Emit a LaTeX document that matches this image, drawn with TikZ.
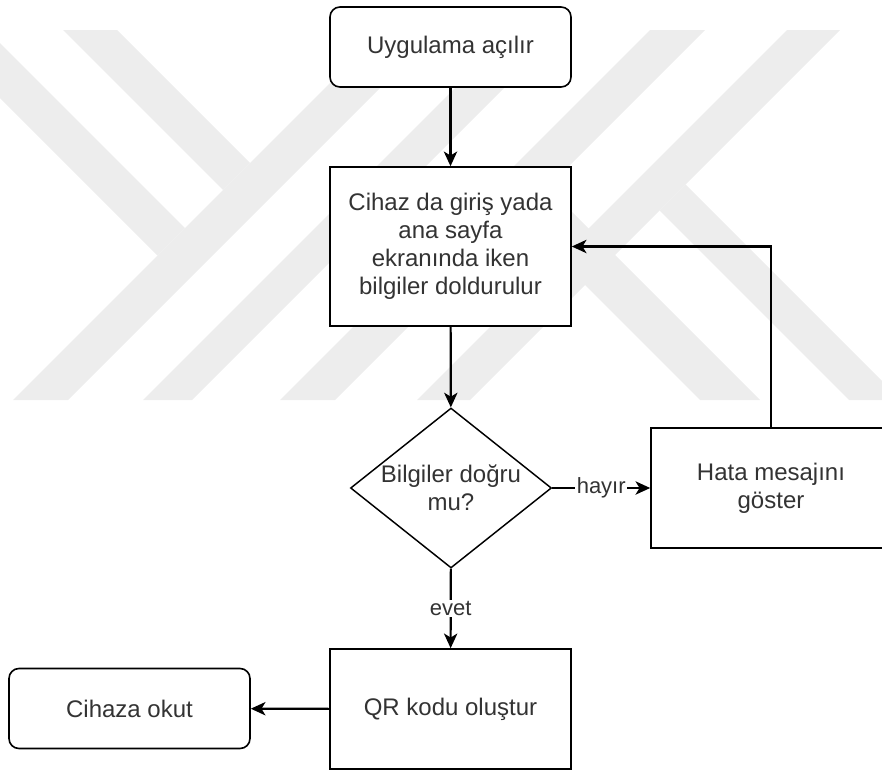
\documentclass[tikz,border=0pt]{standalone}
\usepackage{fontspec}
\setmainfont{Liberation Sans}
\usetikzlibrary{shapes.geometric,arrows.meta}
\definecolor{wmark}{RGB}{237,237,237}
\definecolor{txt}{HTML}{333333}

\begin{document}
\begin{tikzpicture}[x=0.75pt, y=-0.75pt,
    every node/.style={text=txt, align=center, font=\fontsize{18}{21}\selectfont},
    terminal/.style={draw, fill=white, line width=1.2pt, rounded corners=7.5pt,
        minimum width=180.75pt, minimum height=60pt},
    process/.style={draw, fill=white, line width=1.2pt, minimum width=180.75pt},
    decision/.style={draw, fill=white, line width=1.1pt, diamond, shape aspect=1.26,
        inner sep=0pt, minimum width=150.75pt, minimum height=120pt},
    flow/.style={line width=1.6pt, -{Stealth[length=11pt, width=10pt, inset=3pt]}},
    edgelabel/.style={fill=white, inner sep=1pt, font=\fontsize{16.5}{19}\selectfont}]
\useasboundingbox (0,0) rectangle (882,771);
\clip (0,0) rectangle (882,771);

\begin{scope}
\clip (0,30) rectangle (882,400);
\fill[wmark] (383,30) -- (438,30) -- (68,400) -- (13,400) -- cycle;
\fill[wmark] (-68,30) -- (-13,30) -- (185,228) -- (157.5,255.5) -- cycle;
\fill[wmark] (63,30) -- (117,30) -- (250,163) -- (223,190) -- cycle;
\fill[wmark] (513,30) -- (562,30) -- (192,400) -- (143,400) -- cycle;
\fill[wmark] (650,30) -- (705,30) -- (335,400) -- (280,400) -- cycle;
\fill[wmark] (787,30) -- (840,30) -- (470,400) -- (417,400) -- cycle;
\fill[wmark] (547.5,187.5) -- (760,400) -- (700,400) -- (517.5,217.5) -- cycle;
\fill[wmark] (685.5,184.5) -- (901,400) -- (849,400) -- (659.5,210.5) -- cycle;
\end{scope}

\node[terminal] (appopen) at (450.5,47) {Uygulama açılır};
\node[process, minimum height=119.25pt] (entry) at (450.5,246.5)
    {Cihaz da giriş yada\\ana sayfa\\ekranında iken\\bilgiler doldurulur};
\node[decision] (check) at (451,488) {Bilgiler doğru\\mu?};
\node[process, minimum width=180pt, minimum height=90pt] (errmsg) at (771,488) {Hata mesajını\\göster};
\node[process, minimum height=90pt] (qrcode) at (450.5,709) {QR kodu oluştur};
\node[terminal] (scan) at (129.5,708.5) {Cihaza okut};

\draw[flow] (appopen) -- (entry);
\draw[flow] (entry) -- (check);
\draw[flow] (check) -- node[edgelabel] {hayır} (errmsg);
\draw[flow] (errmsg.north) |- (entry.east);
\draw[flow] (check) -- node[edgelabel] {evet} (qrcode);
\draw[flow] (qrcode) -- (scan);
\end{tikzpicture}
\end{document}
